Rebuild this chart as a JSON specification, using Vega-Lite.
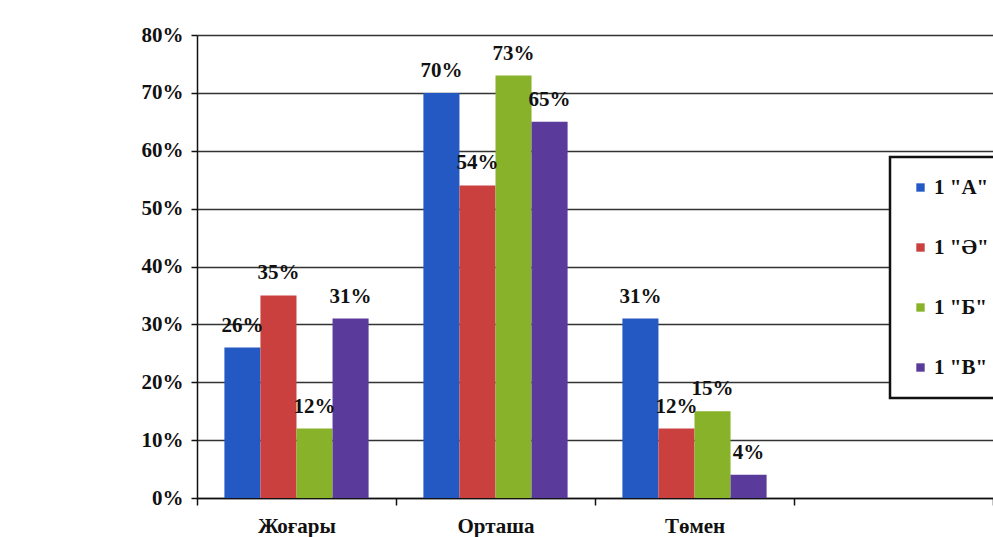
{
  "$schema": "https://vega.github.io/schema/vega-lite/v6.json",
  "width": 796,
  "height": 463,
  "autosize": {"type": "none"},
  "padding": {"left": 197, "top": 35, "right": 0, "bottom": 39},
  "background": "white",
  "data": {
    "values": [
      {"level": "Жоғары", "class": "1 \"А\"", "value": 0.26},
      {"level": "Жоғары", "class": "1 \"Ә\"", "value": 0.35},
      {"level": "Жоғары", "class": "1 \"Б\"", "value": 0.12},
      {"level": "Жоғары", "class": "1 \"В\"", "value": 0.31},
      {"level": "Орташа", "class": "1 \"А\"", "value": 0.70},
      {"level": "Орташа", "class": "1 \"Ә\"", "value": 0.54},
      {"level": "Орташа", "class": "1 \"Б\"", "value": 0.73},
      {"level": "Орташа", "class": "1 \"В\"", "value": 0.65},
      {"level": "Төмен", "class": "1 \"А\"", "value": 0.31},
      {"level": "Төмен", "class": "1 \"Ә\"", "value": 0.12},
      {"level": "Төмен", "class": "1 \"Б\"", "value": 0.15},
      {"level": "Төмен", "class": "1 \"В\"", "value": 0.04}
    ]
  },
  "encoding": {
    "x": {
      "field": "level",
      "type": "nominal",
      "sort": null,
      "scale": {"domain": ["Жоғары", "Орташа", "Төмен", " "], "paddingInner": 0, "paddingOuter": 0},
      "axis": {
        "title": null,
        "labelAngle": 0,
        "labelFont": "Liberation Serif",
        "labelFontSize": 21,
        "labelFontWeight": "bold",
        "labelColor": "#111",
        "labelPadding": 10,
        "tickBand": "extent",
        "tickSize": 7,
        "tickColor": "#111",
        "tickWidth": 1.5,
        "domainColor": "#111",
        "domainWidth": 1.5,
        "grid": false
      }
    },
    "xOffset": {"field": "class", "type": "nominal", "sort": null, "scale": {"paddingInner": 0, "paddingOuter": 0.76}},
    "y": {
      "field": "value",
      "type": "quantitative",
      "scale": {"domain": [0, 0.8], "nice": false},
      "axis": {
        "title": null,
        "format": ".0%",
        "values": [0, 0.1, 0.2, 0.3, 0.4, 0.5, 0.6, 0.7, 0.8],
        "labelFont": "Liberation Serif",
        "labelFontSize": 21,
        "labelFontWeight": "bold",
        "labelColor": "#111",
        "labelPadding": 8,
        "tickSize": 6,
        "tickColor": "#111",
        "tickWidth": 1.5,
        "domainColor": "#111",
        "domainWidth": 1.5,
        "grid": true,
        "gridColor": "#333",
        "gridWidth": 1.5
      }
    }
  },
  "layer": [
    {
      "mark": {"type": "bar"},
      "encoding": {
        "color": {
          "field": "class",
          "type": "nominal",
          "sort": null,
          "scale": {"range": ["#2459c4", "#c9403e", "#89b22b", "#5a3b9c"]},
          "legend": {
            "title": null,
            "orient": "none",
            "legendX": 693,
            "legendY": 122,
            "symbolType": "square",
            "symbolSize": 70,
            "labelFont": "Liberation Serif",
            "labelFontSize": 21,
            "labelFontWeight": "bold",
            "labelColor": "#111",
            "labelOffset": 3,
            "rowPadding": 38,
            "padding": 20,
            "fillColor": "white",
            "strokeColor": "#111",
            "labelLimit": 200,
            "encode": {"legend": {"update": {"strokeWidth": {"value": 2.5}}}}
          }
        }
      }
    },
    {
      "mark": {"type": "text", "baseline": "bottom", "dy": -12, "font": "Liberation Serif", "fontSize": 21, "fontWeight": "bold", "color": "#111"},
      "encoding": {
        "text": {"field": "value", "type": "quantitative", "format": ".0%"}
      }
    }
  ],
  "config": {"view": {"stroke": null}}
}
